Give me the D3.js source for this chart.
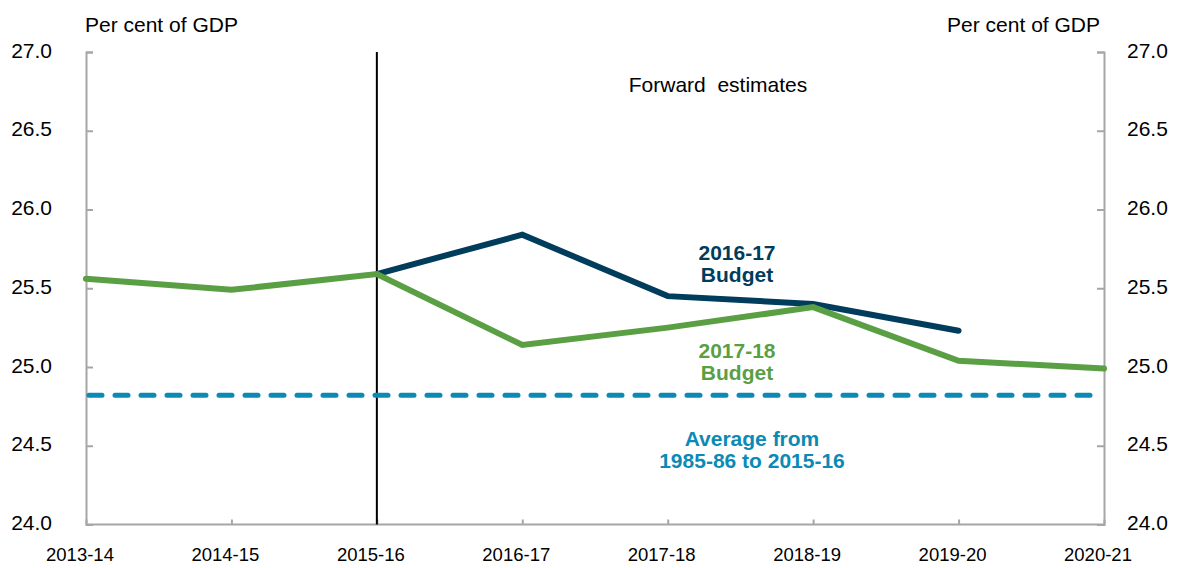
<!DOCTYPE html>
<html><head><meta charset="utf-8">
<script src="https://cdn.jsdelivr.net/npm/d3@7"></script>
<style>body{margin:0;background:#fff}svg{display:block}text{font-family:"Liberation Sans",Arial,sans-serif}</style>
</head><body><svg id="c" width="1180" height="568"></svg>
<script>
const categories = ["2013-14","2014-15","2015-16","2016-17","2017-18","2018-19","2019-20","2020-21"];
const budget1718 = [25.56,25.49,25.59,25.14,25.25,25.38,25.04,24.99];
const budget1617 = [null,null,25.59,25.84,25.45,25.40,25.23,null];
const average = 24.82;
const yTicks = [24.0,24.5,25.0,25.5,26.0,26.5,27.0];
const dividerCategory = "2015-16";

const svg = d3.select("#c");
const L = 86, R = 1104, T = 52, B = 524.5;
const x = d3.scalePoint().domain(categories).range([L, R]);
const y = d3.scaleLinear().domain([24, 27]).range([B, T]);
const gray = "#a6a6a6";

const gl = svg.append("g").attr("transform", `translate(${L},0)`)
  .call(d3.axisRight(y).tickValues(yTicks).tickSize(7).tickFormat(""));
const gr = svg.append("g").attr("transform", `translate(${R},0)`)
  .call(d3.axisLeft(y).tickValues(yTicks).tickSize(7).tickFormat(""));
const gb = svg.append("g").attr("transform", `translate(0,${B})`)
  .call(d3.axisTop(x).tickSize(5).tickFormat(""));
[gl, gr, gb].forEach(g => {
  g.select(".domain").attr("stroke", gray).attr("stroke-width", 2);
  g.selectAll(".tick line").attr("stroke", gray).attr("stroke-width", 2);
});
gb.select(".domain").attr("d", `M${L},0H${R}`);

const fmt = d3.format(".1f");
svg.append("g").selectAll("text").data(yTicks).join("text")
  .attr("x", 52).attr("y", d => y(d) + 5.5).attr("text-anchor", "end")
  .attr("font-size", 21).attr("fill", "#000").text(fmt);
svg.append("g").selectAll("text").data(yTicks).join("text")
  .attr("x", 1127).attr("y", d => y(d) + 5.5).attr("text-anchor", "start")
  .attr("font-size", 21).attr("fill", "#000").text(fmt);

svg.append("g").selectAll("text").data(categories).join("text")
  .attr("x", d => x(d) - 6).attr("y", 561).attr("text-anchor", "middle")
  .attr("font-size", 18.5).attr("fill", "#000").text(d => d);

svg.append("text").attr("x", 85).attr("y", 32).attr("font-size", 21).text("Per cent of GDP");
svg.append("text").attr("x", 1100).attr("y", 32).attr("text-anchor", "end").attr("font-size", 21).text("Per cent of GDP");

svg.append("line").attr("x1", x(dividerCategory)).attr("x2", x(dividerCategory))
  .attr("y1", T).attr("y2", B).attr("stroke", "#000").attr("stroke-width", 2);
svg.append("text").attr("x", 718).attr("y", 92).attr("text-anchor", "middle")
  .attr("font-size", 21).attr("xml:space", "preserve").text("Forward  estimates");

svg.append("line").attr("x1", L + 3).attr("x2", R - 2).attr("y1", y(average)).attr("y2", y(average))
  .attr("stroke", "#0a8ab5").attr("stroke-width", 5).attr("stroke-dasharray", "13,13")
  .attr("stroke-linecap", "round");

const line = d3.line().defined(d => d[1] != null).x(d => x(d[0])).y(d => y(d[1]));
svg.append("path").datum(categories.map((c, i) => [c, budget1617[i]]))
  .attr("d", line).attr("fill", "none").attr("stroke", "#003c5c").attr("stroke-width", 6)
  .attr("stroke-linecap", "round");
svg.append("path").datum(categories.map((c, i) => [c, budget1718[i]]))
  .attr("d", line).attr("fill", "none").attr("stroke", "#5a9f44").attr("stroke-width", 6)
  .attr("stroke-linecap", "round");

function label(lines, cx, y0, color) {
  const t = svg.append("text").attr("text-anchor", "middle").attr("font-size", 21)
    .attr("font-weight", "bold").attr("fill", color);
  lines.forEach((s, i) => t.append("tspan").attr("x", cx).attr("y", y0 + i * 22).text(s));
}
label(["2016-17", "Budget"], 737, 260, "#003c5c");
label(["2017-18", "Budget"], 737, 358, "#5a9f44");
label(["Average from", "1985-86 to 2015-16"], 752, 446, "#0a8ab5");
</script></body></html>
